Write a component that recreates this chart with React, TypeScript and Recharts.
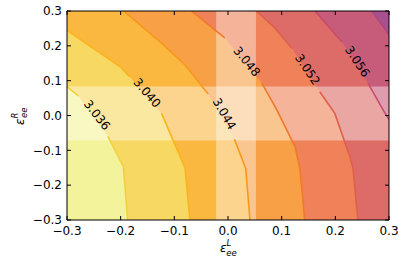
import { ComposedChart, Area, Line, Scatter, XAxis, YAxis } from "recharts";

type Pt = { x: number; y: number | null };

const xTicks = [-0.3, -0.2, -0.1, 0.0, 0.1, 0.2, 0.3];
const yTicks = [-0.3, -0.2, -0.1, 0.0, 0.1, 0.2, 0.3];

// contour lines, top/left end first.
// a point with y: null is where the inline label cuts the line
const c3036: Pt[] = [
  { x: -0.3, y: 0.083 },
  { x: -0.279, y: 0.056 },
  { x: -0.25, y: null },
  { x: -0.224, y: -0.059 },
  { x: -0.195, y: -0.147 },
  { x: -0.187, y: -0.3 },
];
const c3040: Pt[] = [
  { x: -0.3, y: 0.245 },
  { x: -0.201, y: 0.14 },
  { x: -0.183, y: 0.111 },
  { x: -0.15, y: null },
  { x: -0.124, y: 0.007 },
  { x: -0.08, y: -0.151 },
  { x: -0.071, y: -0.3 },
];
const c3044: Pt[] = [
  { x: -0.195, y: 0.3 },
  { x: -0.127, y: 0.212 },
  { x: -0.08, y: 0.145 },
  { x: -0.037, y: 0.062 },
  { x: -0.01, y: null },
  { x: 0.012, y: -0.068 },
  { x: 0.033, y: -0.152 },
  { x: 0.041, y: -0.3 },
];
const c3048: Pt[] = [
  { x: -0.068, y: 0.3 },
  { x: -0.024, y: 0.245 },
  { x: -0.006, y: 0.223 },
  { x: 0.03, y: null },
  { x: 0.063, y: 0.093 },
  { x: 0.091, y: 0.016 },
  { x: 0.125, y: -0.09 },
  { x: 0.134, y: -0.152 },
  { x: 0.143, y: -0.3 },
];
const c3052: Pt[] = [
  { x: 0.053, y: 0.3 },
  { x: 0.088, y: 0.25 },
  { x: 0.119, y: 0.193 },
  { x: 0.145, y: null },
  { x: 0.171, y: 0.068 },
  { x: 0.199, y: 0.006 },
  { x: 0.227, y: -0.118 },
  { x: 0.233, y: -0.152 },
  { x: 0.242, y: -0.3 },
];
const c3056: Pt[] = [
  { x: 0.162, y: 0.3 },
  { x: 0.212, y: 0.212 },
  { x: 0.24, y: null },
  { x: 0.261, y: 0.092 },
  { x: 0.289, y: 0.016 },
  { x: 0.3, y: -0.012 },
];
const c3060: Pt[] = [
  { x: 0.268, y: 0.3 },
  { x: 0.3, y: 0.232 },
];

const contours = [c3036, c3040, c3044, c3048, c3052, c3056, c3060];

// fill below each level, last one is above 3.060
const FILLS = ["#f3f39b", "#f7d862", "#fbb841", "#f7a045", "#ef8258", "#dd6b67", "#c75c7a", "#a8508f"];
const LINE_COLORS = ["#f4d03c", "#fab41e", "#f8981a", "#f1792a", "#df5f4b", "#c84b6b", "#ad4a7c"];

const contourLabels = [
  { x: -0.244, y: 0.001, text: "3.036", angle: 52 },
  { x: -0.151, y: 0.065, text: "3.040", angle: 49 },
  { x: -0.007, y: 0.005, text: "3.044", angle: 60 },
  { x: 0.035, y: 0.155, text: "3.048", angle: 51 },
  { x: 0.148, y: 0.132, text: "3.052", angle: 56 },
  { x: 0.241, y: 0.155, text: "3.056", angle: 56 },
];

// highlighted bands
const bandL = [-0.022, 0.052];
const bandR = [-0.072, 0.083];

const FONT = "DejaVu Sans";
const LO = -0.3;
const HI = 0.3;

const fmt = (v: number) => v.toFixed(1).replace("-", "\u2212");

function regionOf(line: Pt[]) {
  const pts = line.filter((p) => p.y !== null);
  const first = pts[0];
  const last = pts[pts.length - 1];
  return [
    ...(first.x > LO ? [{ x: LO, y: HI }] : []),
    ...pts,
    ...(last.x < HI ? [{ x: HI, y: LO }] : []),
  ];
}

const BottomTick = ({ x, y, payload }: any) => (
  <g>
    <line x1={x} x2={x} y1={y} y2={y - 4} stroke="#000" />
    <text x={x} y={y + 15} textAnchor="middle" fontSize={12} fontFamily={FONT} fill="#000">
      {fmt(payload.value)}
    </text>
  </g>
);

const TopTick = ({ x, y }: any) => <line x1={x} x2={x} y1={y} y2={y + 4} stroke="#000" />;

const LeftTick = ({ x, y, payload }: any) => (
  <g>
    <line x1={x} x2={x + 4} y1={y} y2={y} stroke="#000" />
    <text x={x - 5} y={y} dy="0.36em" textAnchor="end" fontSize={12} fontFamily={FONT} fill="#000">
      {fmt(payload.value)}
    </text>
  </g>
);

const RightTick = ({ x, y }: any) => <line x1={x} x2={x - 4} y1={y} y2={y} stroke="#000" />;

const XLabel = ({ viewBox }: any) => {
  const cx = viewBox.x + viewBox.width / 2;
  const by = viewBox.y + 32;
  return (
    <text x={cx - 8} y={by} fontSize={12} fontFamily={FONT} fill="#000" fontStyle="italic">
      <tspan>ε</tspan>
      <tspan fontSize={8.5} dy={-6}>L</tspan>
      <tspan fontSize={8.5} dx={-5} dy={9.5}>ee</tspan>
    </text>
  );
};

const YLabel = ({ viewBox }: any) => {
  const bx = viewBox.x + viewBox.width - 43.5;
  const by = viewBox.y + viewBox.height / 2 + 9.5;
  return (
    <text
      x={bx}
      y={by}
      transform={`rotate(-90 ${bx} ${by})`}
      fontSize={12}
      fontFamily={FONT}
      fill="#000"
      fontStyle="italic"
    >
      <tspan>ε</tspan>
      <tspan fontSize={8.5} dy={-6}>R</tspan>
      <tspan fontSize={8.5} dx={-5.5} dy={9.5}>ee</tspan>
    </text>
  );
};

const LabelShape = (props: any) => {
  const { cx, cy, payload } = props;
  return (
    <text
      x={cx}
      y={cy}
      transform={`rotate(${payload.angle} ${cx} ${cy})`}
      textAnchor="middle"
      dominantBaseline="central"
      fontSize={12}
      fontFamily={FONT}
      fill="#000"
    >
      {payload.text}
    </text>
  );
};

export default function App() {
  const regions = contours.map(regionOf);
  return (
    <div style={{ position: "absolute", left: 0, top: 0, background: "#fff" }}>
      <ComposedChart width={407} height={271} margin={{ top: 10, right: 17, bottom: 50, left: 66 }}>
        <Area
          data={[
            { x: LO, y: HI },
            { x: HI, y: HI },
          ]}
          dataKey="y"
          type="linear"
          baseValue="dataMin"
          fill={FILLS[7]}
          fillOpacity={1}
          stroke="none"
          isAnimationActive={false}
        />
        {regions
          .map((data, i) => (
            <Area
              key={"r" + i}
              data={data}
              dataKey="y"
              type="linear"
              baseValue="dataMin"
              fill={FILLS[i]}
              fillOpacity={1}
              stroke="none"
              isAnimationActive={false}
            />
          ))
          .reverse()}
        <Area
          data={[
            { x: bandL[0], y: HI },
            { x: bandL[1], y: HI },
          ]}
          dataKey="y"
          type="linear"
          baseValue="dataMin"
          fill="#fff"
          fillOpacity={0.4}
          stroke="none"
          isAnimationActive={false}
        />
        <Area
          data={[
            { x: LO, y: bandR[1] },
            { x: HI, y: bandR[1] },
          ]}
          dataKey="y"
          type="linear"
          baseValue={bandR[0]}
          fill="#fff"
          fillOpacity={0.4}
          stroke="none"
          isAnimationActive={false}
        />
        {contours.map((data, i) => (
          <Line
            key={"c" + i}
            data={data}
            dataKey="y"
            type="linear"
            stroke={LINE_COLORS[i]}
            strokeWidth={1.6}
            dot={false}
            activeDot={false}
            isAnimationActive={false}
          />
        ))}
        <XAxis
          type="number"
          dataKey="x"
          domain={[LO, HI]}
          ticks={xTicks}
          interval={0}
          allowDataOverflow
          height={1}
          tickSize={0}
          tickMargin={0}
          tickLine={false}
          axisLine={{ stroke: "#000" }}
          tick={(p: any) => <BottomTick {...p} />}
          label={(p: any) => <XLabel {...p} />}
        />
        <XAxis
          xAxisId="top"
          orientation="top"
          type="number"
          dataKey="x"
          domain={[LO, HI]}
          ticks={xTicks}
          interval={0}
          allowDataOverflow
          height={1}
          tickSize={0}
          tickMargin={0}
          tickLine={false}
          axisLine={{ stroke: "#000" }}
          tick={(p: any) => <TopTick {...p} />}
        />
        <YAxis
          type="number"
          domain={[LO, HI]}
          ticks={yTicks}
          interval={0}
          allowDataOverflow
          width={1}
          tickSize={0}
          tickMargin={0}
          tickLine={false}
          axisLine={{ stroke: "#000" }}
          tick={(p: any) => <LeftTick {...p} />}
          label={(p: any) => <YLabel {...p} />}
        />
        <YAxis
          yAxisId="right"
          orientation="right"
          type="number"
          domain={[LO, HI]}
          ticks={yTicks}
          interval={0}
          allowDataOverflow
          width={1}
          tickSize={0}
          tickMargin={0}
          tickLine={false}
          axisLine={{ stroke: "#000" }}
          tick={(p: any) => <RightTick {...p} />}
        />
        <Scatter data={contourLabels} dataKey="y" shape={LabelShape} isAnimationActive={false} />
      </ComposedChart>
    </div>
  );
}
